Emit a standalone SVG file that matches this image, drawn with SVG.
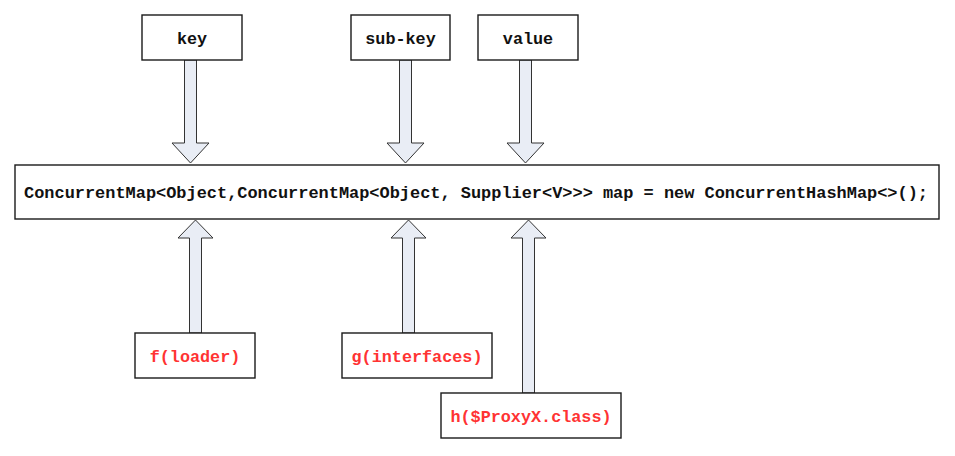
<svg xmlns="http://www.w3.org/2000/svg" width="955" height="456" viewBox="0 0 955 456">
<style>
.box{fill:#fff;stroke:#1a1a1a;stroke-width:1.4}
.t{font-family:"Liberation Mono","Courier New",monospace;font-weight:bold;font-size:16.8px;fill:#111}
.r{fill:#ff3333}
.arr{fill:#e9edf5;stroke:#333;stroke-width:1}
</style>
<rect width="955" height="456" fill="#fff"/>
<g id="connectors">
<path class="arr" d="M184.5,60 L196.5,60 L196.5,143 L209,143 L190.5,163 L172,143 L184.5,143 Z"/>
<path class="arr" d="M399.5,60 L411.5,60 L411.5,143 L424,143 L405.5,163 L387,143 L399.5,143 Z"/>
<path class="arr" d="M519.5,60 L531.5,60 L531.5,143 L544,143 L525.5,163 L507,143 L519.5,143 Z"/>
<path class="arr" d="M189.5,333 L201.5,333 L201.5,238 L213,238 L195.5,220 L178,238 L189.5,238 Z"/>
<path class="arr" d="M402.5,333 L414.5,333 L414.5,238 L426,238 L408.5,220 L391,238 L402.5,238 Z"/>
<path class="arr" d="M522.5,393 L534.5,393 L534.5,238 L546,238 L528.5,220 L511,238 L522.5,238 Z"/>
</g>
<g id="key"><rect class="box" x="142" y="15" width="100" height="45"/><text class="t" x="192" y="43.5" text-anchor="middle">key</text></g>
<g id="sub-key"><rect class="box" x="351" y="15" width="99" height="45"/><text class="t" x="400.5" y="43.5" text-anchor="middle">sub-key</text></g>
<g id="value"><rect class="box" x="478" y="15" width="100" height="45"/><text class="t" x="528" y="43.5" text-anchor="middle">value</text></g>
<g id="map"><rect class="box" x="15" y="165" width="924" height="54"/><text class="t" x="24" y="197.5" textLength="904" lengthAdjust="spacingAndGlyphs">ConcurrentMap&lt;Object,ConcurrentMap&lt;Object, Supplier&lt;V&gt;&gt;&gt; map = new ConcurrentHashMap&lt;&gt;();</text></g>
<g id="f"><rect class="box" x="135" y="333" width="120" height="45"/><text class="t r" x="195" y="361.5" text-anchor="middle">f(loader)</text></g>
<g id="g"><rect class="box" x="342" y="333" width="150" height="45"/><text class="t r" x="417" y="361.5" text-anchor="middle">g(interfaces)</text></g>
<g id="h"><rect class="box" x="441" y="393" width="180" height="45"/><text class="t r" x="531" y="421.5" text-anchor="middle">h($ProxyX.class)</text></g>
</svg>
